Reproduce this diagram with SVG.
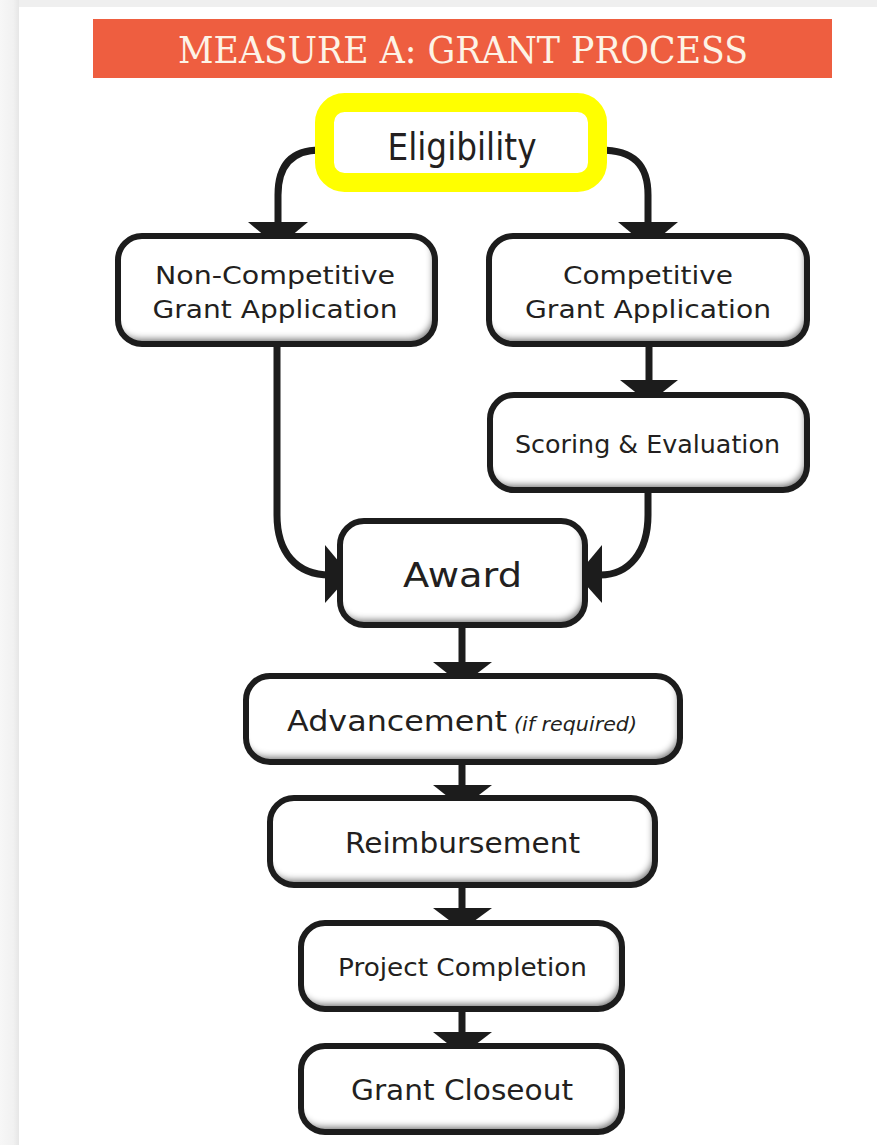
<svg xmlns="http://www.w3.org/2000/svg" width="877" height="1145" viewBox="0 0 877 1145">
  <defs>
    <linearGradient id="edgeL" x1="0" y1="0" x2="1" y2="0">
      <stop offset="0" stop-color="#f7f7f7"/>
      <stop offset="0.7" stop-color="#f1f1f1"/>
      <stop offset="1" stop-color="#e6e6e6"/>
    </linearGradient>
    <filter id="inset" x="-20%" y="-30%" width="140%" height="160%">
      <feFlood flood-color="#000" flood-opacity="0.8" result="c"/>
      <feComposite in="c" in2="SourceAlpha" operator="out" result="outside"/>
      <feOffset in="outside" dx="-3" dy="-6" result="off"/>
      <feGaussianBlur in="off" stdDeviation="3" result="blur"/>
      <feComposite in="blur" in2="SourceAlpha" operator="in" result="inner"/>
      <feMerge><feMergeNode in="SourceGraphic"/><feMergeNode in="inner"/></feMerge>
    </filter>
    <style>
      .fill { fill: #ffffff; filter: url(#inset); }
      .frame { fill: none; stroke: #1c1c1c; stroke-width: 6; }
      .lbl { font-family: "DejaVu Sans", "Liberation Sans", sans-serif; fill: #231f20; text-anchor: middle; }
      .wire { fill: none; stroke: #1c1c1c; stroke-width: 7; }
      .head { fill: #1c1c1c; }
    </style>
  </defs>

  <!-- page background -->
  <rect x="0" y="0" width="877" height="1145" fill="#ffffff"/>
  <rect x="0" y="0" width="877" height="7" fill="#efefef"/>
  <rect x="0" y="0" width="19" height="1145" fill="url(#edgeL)"/>

  <!-- title banner -->
  <g id="title">
    <rect x="93" y="19" width="739" height="59" fill="#ee5e40"/>
    <text x="463" y="63" font-family="'DejaVu Serif', 'Liberation Serif', serif" font-size="38" fill="#fdf3e6" text-anchor="middle" textLength="570" lengthAdjust="spacingAndGlyphs">MEASURE A: GRANT PROCESS</text>
  </g>

  <!-- connectors -->
  <g id="connectors">
    <path class="wire" d="M320 150 C292 150 278 165 278 195 L278 226"/>
    <polygon class="head" points="248,222 308,222 278,247"/>
    <path class="wire" d="M600 150 C634 150 648 165 648 195 L648 226"/>
    <polygon class="head" points="618,222 678,222 648,247"/>

    <path class="wire" d="M649 347 L649 384"/>
    <polygon class="head" points="620,380 678,380 649,403"/>

    <path class="wire" d="M277 347 L277 515 C277 552 296 575 330 575"/>
    <polygon class="head" points="325,545 325,603 350,575"/>
    <path class="wire" d="M648 493 L648 515 C648 552 629 575 600 575"/>
    <polygon class="head" points="602,545 602,603 577,575"/>

    <path class="wire" d="M462 628 L462 666"/>
    <polygon class="head" points="433,662 492,662 462,685"/>
    <path class="wire" d="M462 765 L462 789"/>
    <polygon class="head" points="433,785 492,785 462,808"/>
    <path class="wire" d="M462 888 L462 912"/>
    <polygon class="head" points="433,908 492,908 462,930"/>
    <path class="wire" d="M462 1012 L462 1036"/>
    <polygon class="head" points="433,1032 492,1032 462,1055"/>
  </g>

  <!-- highlighted start step -->
  <g id="eligibility">
    <rect x="324.5" y="102.5" width="273" height="80" rx="20" fill="#ffffff" stroke="#ffff00" stroke-width="19"/>
    <text class="lbl" x="462" y="160" font-size="37" textLength="149" lengthAdjust="spacingAndGlyphs">Eligibility</text>
  </g>

  <g id="non-competitive">
    <rect class="fill" x="118" y="236" width="317" height="108" rx="24"/>
    <rect class="frame" x="118" y="236" width="317" height="108" rx="24"/>
    <text class="lbl" x="275" y="284" font-size="24" textLength="240" lengthAdjust="spacingAndGlyphs">Non-Competitive</text>
    <text class="lbl" x="275" y="318" font-size="24" textLength="245" lengthAdjust="spacingAndGlyphs">Grant Application</text>
  </g>

  <g id="competitive">
    <rect class="fill" x="489" y="236" width="318" height="108" rx="24"/>
    <rect class="frame" x="489" y="236" width="318" height="108" rx="24"/>
    <text class="lbl" x="648" y="284" font-size="24" textLength="170" lengthAdjust="spacingAndGlyphs">Competitive</text>
    <text class="lbl" x="648" y="318" font-size="24" textLength="246" lengthAdjust="spacingAndGlyphs">Grant Application</text>
  </g>

  <g id="scoring">
    <rect class="fill" x="490" y="395" width="317" height="95" rx="24"/>
    <rect class="frame" x="490" y="395" width="317" height="95" rx="24"/>
    <text class="lbl" x="647.5" y="453" font-size="24" textLength="265" lengthAdjust="spacingAndGlyphs">Scoring &amp; Evaluation</text>
  </g>

  <g id="award">
    <rect class="fill" x="340" y="521" width="245" height="104" rx="24"/>
    <rect class="frame" x="340" y="521" width="245" height="104" rx="24"/>
    <text class="lbl" x="462.5" y="587" font-size="34" textLength="119" lengthAdjust="spacingAndGlyphs">Award</text>
  </g>

  <g id="advancement">
    <rect class="fill" x="246" y="676" width="434" height="86" rx="24"/>
    <rect class="frame" x="246" y="676" width="434" height="86" rx="24"/>
    <text class="lbl" x="397" y="731" font-size="29" textLength="220" lengthAdjust="spacingAndGlyphs">Advancement</text>
    <text class="lbl" x="575.5" y="731" font-size="19" font-style="italic" textLength="123" lengthAdjust="spacingAndGlyphs">(if required)</text>
  </g>

  <g id="reimbursement">
    <rect class="fill" x="270" y="798" width="385" height="87" rx="24"/>
    <rect class="frame" x="270" y="798" width="385" height="87" rx="24"/>
    <text class="lbl" x="462.5" y="853" font-size="28" textLength="235" lengthAdjust="spacingAndGlyphs">Reimbursement</text>
  </g>

  <g id="project-completion">
    <rect class="fill" x="301" y="923" width="321" height="86" rx="24"/>
    <rect class="frame" x="301" y="923" width="321" height="86" rx="24"/>
    <text class="lbl" x="462.5" y="976" font-size="25" textLength="249" lengthAdjust="spacingAndGlyphs">Project Completion</text>
  </g>

  <g id="grant-closeout">
    <rect class="fill" x="301" y="1046" width="321" height="86" rx="24"/>
    <rect class="frame" x="301" y="1046" width="321" height="86" rx="24"/>
    <text class="lbl" x="462" y="1100" font-size="29" textLength="222" lengthAdjust="spacingAndGlyphs">Grant Closeout</text>
  </g>
</svg>
